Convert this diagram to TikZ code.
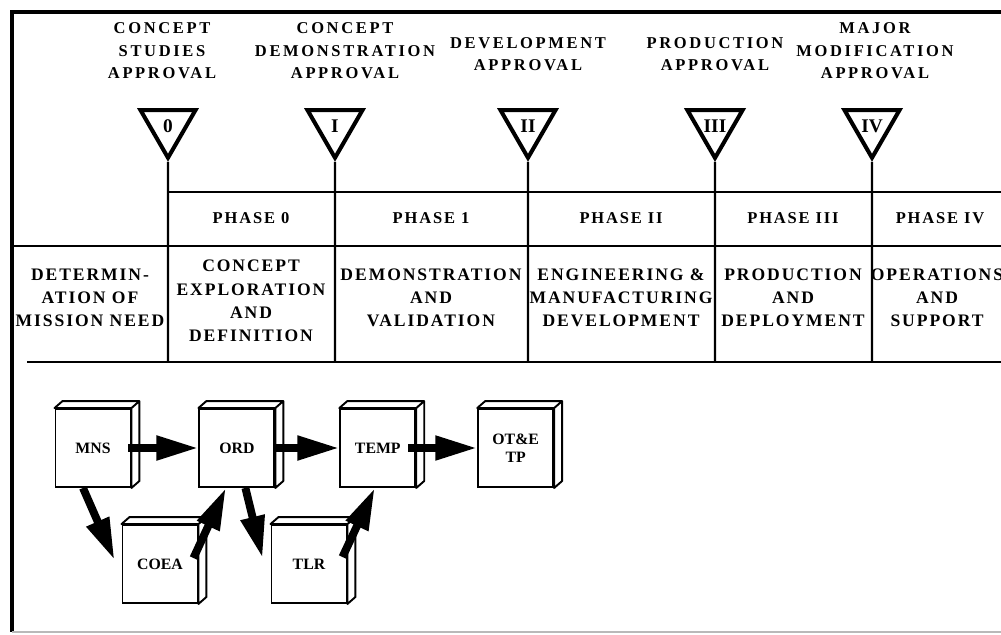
\documentclass[tikz,border=0pt]{standalone}
\usepackage{fontspec}
\setmainfont{Liberation Serif}
\newfontfamily\widefont{Liberation Serif}[LetterSpace=16]
\newfontfamily\medfont{Liberation Serif}[LetterSpace=11]
\usetikzlibrary{arrows.meta, positioning, shapes.geometric}

\begin{document}
\begin{tikzpicture}[x=0.02cm, y=-0.02cm,
  rule/.style  = {line width=1.4pt},
  frame/.style = {line width=1.9pt},
  gate/.style  = {draw, line width=2.3pt, regular polygon, regular polygon sides=3,
                  shape border rotate=180, minimum size=1.27cm, inner sep=0pt,
                  font=\bfseries\fontsize{11}{11}\selectfont},
  mslbl/.style = {align=center, font=\widefont\bfseries\fontsize{9.4}{12.8}\selectfont},
  phlbl/.style = {font=\medfont\bfseries\fontsize{9.4}{10}\selectfont},
  desc/.style  = {align=center, font=\medfont\bfseries\fontsize{10}{13.2}\selectfont},
  doc/.style   = {draw, line width=1.1pt, fill=white, minimum width=1.5cm,
                  minimum height=1.56cm, inner sep=1pt, align=center,
                  font=\bfseries\fontsize{9}{10}\selectfont},
  flow/.style  = {-{Triangle[length=0.84cm, width=0.46cm]}, line width=4.5pt}
]
\useasboundingbox (0,0) rectangle (1001,635);
\clip (0,0) rectangle (1001,635);

% outer frame
\draw[frame] (1001,12) -- (12,12) -- (12,632);
\draw[gray!55, line width=1pt] (12,632) -- (1001,632);

% milestones and column lines
\foreach \x/\n/\r in {168/0/0, 335/1/I, 528/2/II, 715/3/III, 872/4/IV} {
  \node[gate] (g\n) at (\x,126) {\r};
  \coordinate (b\n) at (\x,362);
  \draw[rule] (g\n.south) -- (b\n);
}
\draw[rule] (168,192) -- (1001,192);
\draw[rule] (12,246) -- (1001,246);
\draw[rule] (27,362) -- (1001,362);

\node[mslbl] (m0) at (162,51) {CONCEPT\\STUDIES\\APPROVAL};
\node[mslbl] (m1) at (345,51) {CONCEPT\\DEMONSTRATION\\APPROVAL};
\node[mslbl] (m2) at (528,54) {DEVELOPMENT\\APPROVAL};
\node[mslbl] (m3) at (715,54) {PRODUCTION\\APPROVAL};
\node[mslbl] (m4) at (875,51) {MAJOR\\MODIFICATION\\APPROVAL};

% phases
\foreach \x/\t in {251/0, 431/1, 621/II, 793/III, 940/IV}
  \node[phlbl] (ph\t) at (\x,218) {PHASE \t};

\node[desc] (need) at (90,298) {DETERMIN-\\ATION OF\\MISSION NEED};
\node[desc] (cexp) at (251,301) {CONCEPT\\EXPLORATION\\AND\\DEFINITION};
\node[desc] (dval) at (431,298) {DEMONSTRATION\\AND\\VALIDATION};
\node[desc] (emd)  at (621,298) {ENGINEERING \&\\MANUFACTURING\\DEVELOPMENT};
\node[desc] (pdep) at (793,298) {PRODUCTION\\AND\\DEPLOYMENT};
\node[desc] (ops)  at (937,298) {OPERATIONS\\AND\\SUPPORT};

% documents
\node[doc] (mns) at (93,448) {MNS};
\node[doc, right=1.34cm of mns] (ord) {ORD};
\node[doc, right=1.28cm of ord] (temp) {TEMP};
\node[doc, right=1.22cm of temp] (ote) {OT\&E\\TP};
\node[doc] (coea) at (160,564) {COEA};
\node[doc] (tlr) at (309,564) {TLR};
\foreach \b in {mns,ord,temp,ote,coea,tlr}
  \draw[line width=1.1pt, fill=white, line join=round]
    (\b.north west) -- ++(8,-7) -- ([shift={(8,-7)}]\b.north east)
    -- ([shift={(8,-7)}]\b.south east) -- (\b.south east) -- (\b.north east) -- cycle
    (\b.north east) -- ++(8,-7);

\draw[flow] ([xshift=-0.06cm]mns.east) -- (ord.west);
\draw[flow] (ord.east) -- (temp.west);
\draw[flow] ([xshift=-0.16cm]temp.east) -- (ote.west);
\draw[flow] ([xshift=-0.2cm]mns.south) -- ([shift={(-7,-4)}]coea.west);
\draw[flow] ([shift={(-5,-6)}]coea.east) -- ([xshift=-0.22cm]ord.south);
\draw[flow] ([xshift=0.17cm]ord.south) -- ([shift={(-8,-6)}]tlr.west);
\draw[flow] ([shift={(-5,-7)}]tlr.east) -- ([xshift=-0.06cm]temp.south);
\end{tikzpicture}
\end{document}
